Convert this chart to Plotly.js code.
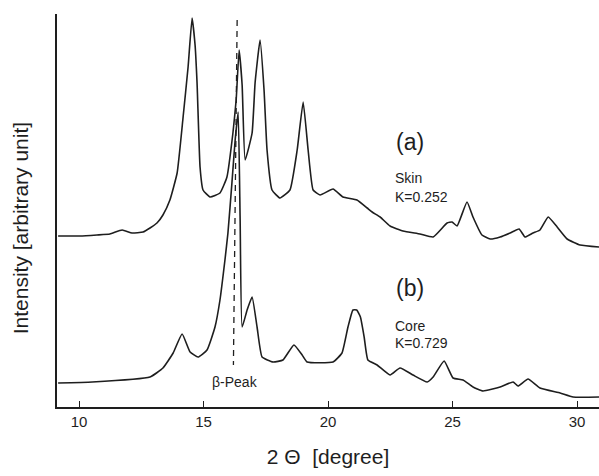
<!DOCTYPE html>
<html>
<head>
<meta charset="utf-8">
<script src="https://cdn.plot.ly/plotly-3.0.1.min.js"></script>
<style>html,body{margin:0;padding:0;background:#fff;}#chart{width:599px;height:476px;}</style>
</head>
<body>
<div id="chart"></div>
<script>
// 2-theta (degree) and intensity (arbitrary units)
const skinTheta = [9.16,10.04,10.72,11.24,11.73,12.13,12.57,12.85,13.13,13.37,13.65,13.94,14.18,14.38,14.54,14.66,14.74,14.86,14.98,15.26,15.66,15.94,16.18,16.31,16.43,16.55,16.67,16.95,17.07,17.27,17.43,17.55,17.75,18.07,18.47,18.76,19.0,19.2,19.4,19.68,20.2,20.6,21.16,21.57,21.77,22.09,22.49,23.01,23.69,24.22,24.78,24.98,25.18,25.58,25.82,26.18,26.51,26.91,27.31,27.67,27.91,28.23,28.51,28.84,29.2,29.6,30.12,30.88];
const skinIntensity = [171,171,172,173,177,174,175,179,184,192,207,234,290,340,389,362,324,240,217,210,214,230,274,307,357,322,247,274,324,367,317,257,217,209,217,257,305,257,217,212,218,210,207,199,195,190,181,176,173,170,184,185,181,205,190,172,168,170,174,178,170,174,177,190,180,168,162,160];

const coreTheta = [9.16,10.53,12.85,13.37,13.78,14.14,14.46,14.78,15.14,15.46,15.66,15.86,15.98,16.14,16.27,16.39,16.47,16.55,16.75,16.95,17.15,17.35,17.79,18.19,18.63,18.96,19.16,20.2,20.56,20.8,21.0,21.15,21.3,21.45,21.6,21.97,22.49,22.89,23.41,23.98,24.22,24.66,25.02,25.42,25.82,26.22,26.91,27.43,27.63,28.03,28.51,29.32,29.84,30.88];
const coreIntensity = [24,25,30,39,54,73,55,50,57,80,107,147,174,224,267,295,187,80,97,110,80,50,45,47,62,52,45,45,54,80,97,97,90,70,47,42,32,39,32,25,30,46,29,27,20,16,20,25,21,28,19,14,10,10];

const betaTheta = [16.35,16.2];
const betaIntensity = [387,42];

const xTickVals = [10,15,20,25,30];
const xTickText = ['10','15','20','25','30'];

const ink = '#1e1e1e';
const font = 'Liberation Sans, Arial, sans-serif';

const traces = [
  {x: skinTheta, y: skinIntensity, mode: 'lines', line: {color: ink, width: 1.6, shape: 'spline', smoothing: 0.4}, hoverinfo: 'skip'},
  {x: coreTheta, y: coreIntensity, mode: 'lines', line: {color: ink, width: 1.6, shape: 'spline', smoothing: 0.4}, hoverinfo: 'skip'},
  {x: betaTheta, y: betaIntensity, mode: 'lines', line: {color: ink, width: 1.3, dash: '6px,5px'}, hoverinfo: 'skip'}
];

const layout = {
  width: 599, height: 476,
  margin: {l: 57, r: 0, t: 14, b: 69},
  paper_bgcolor: '#fff', plot_bgcolor: '#fff',
  showlegend: false,
  font: {family: font, color: ink},
  xaxis: {
    range: [9.116, 30.88], showgrid: false, zeroline: false,
    showline: true, linecolor: ink, linewidth: 1.6,
    tickvals: xTickVals, ticktext: xTickText,
    ticks: 'inside', ticklen: 6, tickcolor: ink, tickwidth: 1,
    tickfont: {size: 15, color: ink, family: font},
    title: {text: '2 \u0398  [degree]', font: {size: 21, color: ink, family: font}, standoff: 21}
  },
  yaxis: {
    range: [0, 393], showgrid: false, zeroline: false,
    showline: true, linecolor: ink, linewidth: 1.6,
    showticklabels: false, ticks: ''
  },
  annotations: [
    {xref: 'paper', yref: 'paper', x: -0.068, y: 0.455, xanchor: 'center', yanchor: 'middle', textangle: -90,
     text: 'Intensity [arbitrary unit]', showarrow: false, font: {size: 21, color: ink, family: font}},
    {x: 23.3, y: 265, text: '(a)', showarrow: false, font: {size: 23, color: ink, family: font}},
    {x: 22.6, y: 229, text: 'Skin', xanchor: 'left', showarrow: false, font: {size: 14, color: ink, family: font}},
    {x: 22.6, y: 210, text: 'K=0.252', xanchor: 'left', showarrow: false, font: {size: 14, color: ink, family: font}},
    {x: 23.3, y: 119, text: '(b)', showarrow: false, font: {size: 23, color: ink, family: font}},
    {x: 22.6, y: 81, text: 'Core', xanchor: 'left', showarrow: false, font: {size: 14, color: ink, family: font}},
    {x: 22.6, y: 64, text: 'K=0.729', xanchor: 'left', showarrow: false, font: {size: 14, color: ink, family: font}},
    {x: 16.27, y: 25, text: '\u03b2-Peak', showarrow: false, font: {size: 14, color: ink, family: font}}
  ]
};

Plotly.newPlot('chart', traces, layout, {staticPlot: true, displayModeBar: false});
</script>
</body>
</html>
